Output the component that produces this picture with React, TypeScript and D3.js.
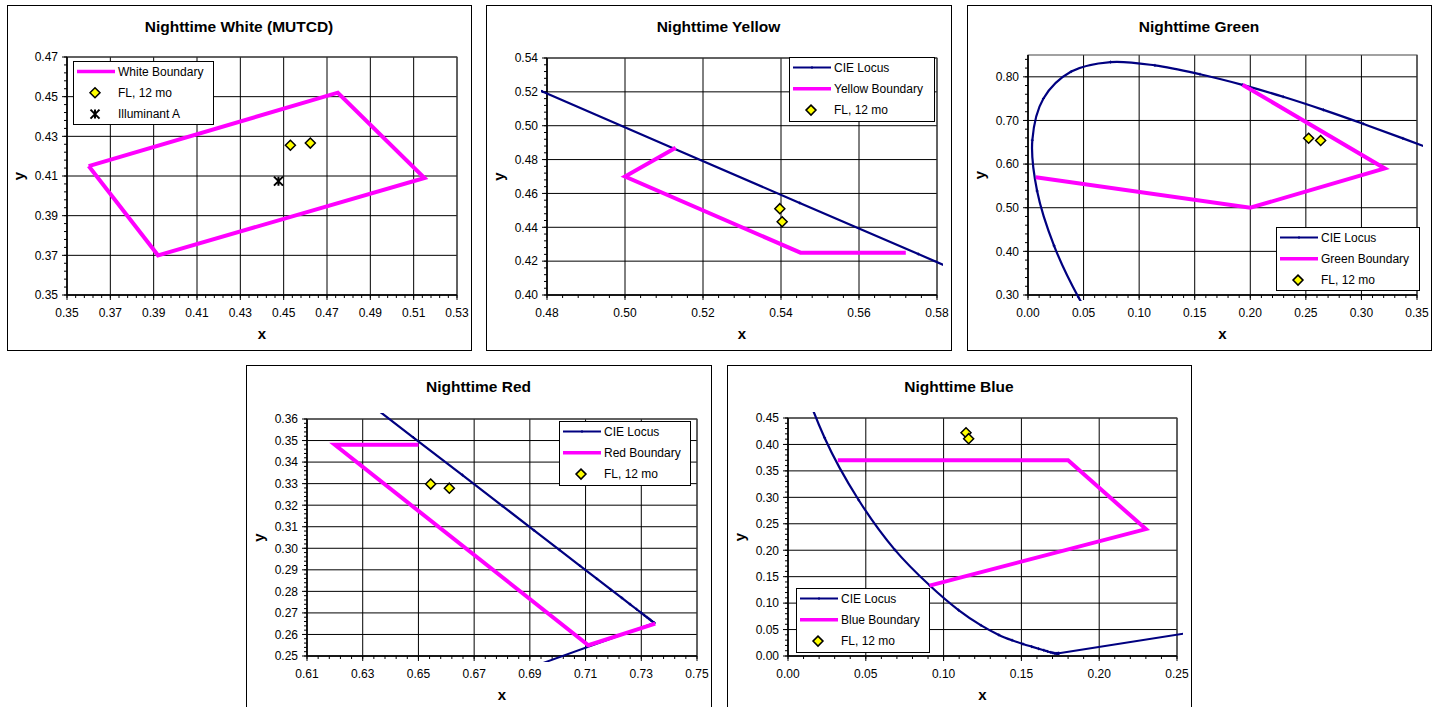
import React, { useEffect, useRef } from 'react';
import * as d3 from 'd3';

// CIE 1931 spectral locus, 380..700 nm in 5 nm steps
const locusX = [0.1741, 0.1740, 0.1738, 0.1736, 0.1733, 0.1730, 0.1726, 0.1721, 0.1714, 0.1703, 0.1689, 0.1669, 0.1644, 0.1611, 0.1566, 0.1510, 0.1440, 0.1355, 0.1241, 0.1096, 0.0913, 0.0687, 0.0454, 0.0235, 0.0082, 0.0039, 0.0139, 0.0389, 0.0743, 0.1142, 0.1547, 0.1929, 0.2296, 0.2658, 0.3016, 0.3373, 0.3731, 0.4087, 0.4441, 0.4788, 0.5125, 0.5448, 0.5752, 0.6029, 0.6270, 0.6482, 0.6658, 0.6801, 0.6915, 0.7006, 0.7079, 0.7140, 0.7190, 0.7230, 0.7260, 0.7283, 0.7300, 0.7311, 0.7320, 0.7327, 0.7334, 0.7340, 0.7344, 0.7346, 0.7347];
const locusY = [0.0050, 0.0050, 0.0049, 0.0049, 0.0048, 0.0048, 0.0048, 0.0048, 0.0051, 0.0058, 0.0069, 0.0086, 0.0109, 0.0138, 0.0177, 0.0227, 0.0297, 0.0399, 0.0578, 0.0868, 0.1327, 0.2007, 0.2950, 0.4127, 0.5384, 0.6548, 0.7502, 0.8120, 0.8338, 0.8262, 0.8059, 0.7816, 0.7543, 0.7243, 0.6923, 0.6589, 0.6245, 0.5896, 0.5547, 0.5202, 0.4866, 0.4544, 0.4242, 0.3965, 0.3725, 0.3514, 0.3340, 0.3197, 0.3083, 0.2993, 0.2920, 0.2859, 0.2809, 0.2770, 0.2740, 0.2717, 0.2700, 0.2689, 0.2680, 0.2673, 0.2666, 0.2660, 0.2656, 0.2654, 0.2653];

// white
const whiteBoundaryX = [0.360, 0.475, 0.515, 0.392, 0.360];
const whiteBoundaryY = [0.415, 0.452, 0.409, 0.370, 0.415];
const whiteFLX = [0.4531, 0.4623];
const whiteFLY = [0.4255, 0.4266];
const illumAX = [0.4476];
const illumAY = [0.4074];
const whiteXTicks = [0.35, 0.37, 0.39, 0.41, 0.43, 0.45, 0.47, 0.49, 0.51, 0.53];
const whiteYTicks = [0.35, 0.37, 0.39, 0.41, 0.43, 0.45, 0.47];

// yellow
const yellowBoundaryX = [0.513, 0.500, 0.545, 0.572];
const yellowBoundaryY = [0.487, 0.470, 0.425, 0.425];
const yellowFLX = [0.5397, 0.5403];
const yellowFLY = [0.4510, 0.4433];
const yellowXTicks = [0.48, 0.50, 0.52, 0.54, 0.56, 0.58];
const yellowYTicks = [0.40, 0.42, 0.44, 0.46, 0.48, 0.50, 0.52, 0.54];

// green
const greenBoundaryX = [0.193, 0.321, 0.200, 0.007];
const greenBoundaryY = [0.782, 0.590, 0.500, 0.570];
const greenFLX = [0.2525, 0.2633];
const greenFLY = [0.6593, 0.6540];
const greenXTicks = [0.00, 0.05, 0.10, 0.15, 0.20, 0.25, 0.30, 0.35];
const greenYTicks = [0.30, 0.40, 0.50, 0.60, 0.70, 0.80];

// red
const redBoundaryX = [0.650, 0.620, 0.711, 0.735];
const redBoundaryY = [0.348, 0.348, 0.255, 0.265];
const redFLX = [0.6544, 0.6611];
const redFLY = [0.3298, 0.3279];
const redXTicks = [0.61, 0.63, 0.65, 0.67, 0.69, 0.71, 0.73, 0.75];
const redYTicks = [0.25, 0.26, 0.27, 0.28, 0.29, 0.30, 0.31, 0.32, 0.33, 0.34, 0.35, 0.36];

// blue
const blueBoundaryX = [0.032, 0.180, 0.230, 0.091];
const blueBoundaryY = [0.370, 0.370, 0.240, 0.133];
const blueFLX = [0.1144, 0.1161];
const blueFLY = [0.4222, 0.4109];
const blueXTicks = [0.00, 0.05, 0.10, 0.15, 0.20, 0.25];
const blueYTicks = [0.00, 0.05, 0.10, 0.15, 0.20, 0.25, 0.30, 0.35, 0.40, 0.45];

const FONT = '"Liberation Sans", Arial, sans-serif';
const MAGENTA = '#FF00FF';
const NAVY = '#000080';

const zip = (xs, ys) => xs.map((v, i) => [v, ys[i]]);

const panels = [
  {
    id: 'white', title: 'Nighttime White (MUTCD)', frame: [7, 5, 464, 345], plot: [67, 57, 457, 295],
    xDomain: [0.35, 0.53], yDomain: [0.35, 0.47], xTicks: whiteXTicks, yTicks: whiteYTicks, xMinor: 0.004, yMinor: 0.004,
    locus: false, boundary: zip(whiteBoundaryX, whiteBoundaryY), fl: zip(whiteFLX, whiteFLY), illum: zip(illumAX, illumAY),
    legend: [73, 61, 140, 63], items: [['boundary', 'White Boundary'], ['fl', 'FL, 12 mo'], ['illum', 'Illuminant A']],
  },
  {
    id: 'yellow', title: 'Nighttime Yellow', frame: [486, 5, 465, 345], plot: [547, 58, 937, 295],
    xDomain: [0.48, 0.58], yDomain: [0.40, 0.54], xTicks: yellowXTicks, yTicks: yellowYTicks, xMinor: 0.004, yMinor: 0.004,
    locus: true, boundary: zip(yellowBoundaryX, yellowBoundaryY), fl: zip(yellowFLX, yellowFLY), illum: [],
    legend: [789, 57, 145, 64], items: [['locus', 'CIE Locus'], ['boundary', 'Yellow Boundary'], ['fl', 'FL, 12 mo']],
  },
  {
    id: 'green', title: 'Nighttime Green', frame: [967, 5, 464, 345], plot: [1028, 55, 1417, 295],
    xDomain: [0, 0.35], yDomain: [0.30, 0.85], xTicks: greenXTicks, yTicks: greenYTicks, xMinor: 0.01, yMinor: 0.02,
    locus: true, boundary: zip(greenBoundaryX, greenBoundaryY), fl: zip(greenFLX, greenFLY), illum: [],
    legend: [1276, 227, 143, 63], items: [['locus', 'CIE Locus'], ['boundary', 'Green Boundary'], ['fl', 'FL, 12 mo']],
  },
  {
    id: 'red', title: 'Nighttime Red', frame: [246, 365, 465, 360], plot: [307, 419, 697, 656],
    xDomain: [0.61, 0.75], yDomain: [0.25, 0.36], xTicks: redXTicks, yTicks: redYTicks, xMinor: 0.004, yMinor: 0.002,
    locus: true, boundary: zip(redBoundaryX, redBoundaryY), fl: zip(redFLX, redFLY), illum: [],
    legend: [559, 421, 131, 64], items: [['locus', 'CIE Locus'], ['boundary', 'Red Boundary'], ['fl', 'FL, 12 mo']],
  },
  {
    id: 'blue', title: 'Nighttime Blue', frame: [727, 365, 464, 360], plot: [788, 418, 1177, 656],
    xDomain: [0, 0.25], yDomain: [0, 0.45], xTicks: blueXTicks, yTicks: blueYTicks, xMinor: 0.01, yMinor: 0.01,
    locus: true, boundary: zip(blueBoundaryX, blueBoundaryY), fl: zip(blueFLX, blueFLY), illum: [],
    legend: [796, 588, 133, 64], items: [['locus', 'CIE Locus'], ['boundary', 'Blue Boundary'], ['fl', 'FL, 12 mo']],
  },
];

const diamond = (r) => `M0,${-r}L${r},0L0,${r}L${-r},0Z`;

function drawFL(g, cx, cy) {
  g.append('path').attr('d', diamond(5)).attr('transform', `translate(${cx},${cy})`)
    .attr('fill', '#FFFF00').attr('stroke', '#000').attr('stroke-width', 1.5);
}

function drawStar(g, cx, cy) {
  const s = 4.5;
  g.append('path')
    .attr('d', `M${cx - s},${cy - s}L${cx + s},${cy + s}M${cx - s},${cy + s}L${cx + s},${cy - s}M${cx},${cy - s}L${cx},${cy + s}`)
    .attr('stroke', '#000').attr('stroke-width', 2).attr('fill', 'none');
}

function drawPlus(g, cx, cy) {
  g.append('path').attr('d', `M${cx - 1.5},${cy}L${cx + 1.5},${cy}M${cx},${cy - 1.5}L${cx},${cy + 1.5}`)
    .attr('stroke', NAVY).attr('stroke-width', 1);
}

function drawPanel(svg, p) {
  const [fx, fy, fw, fh] = p.frame;
  const [l, t, r, b] = p.plot;
  const g = svg.append('g');

  g.append('rect').attr('x', fx + 0.5).attr('y', fy + 0.5).attr('width', fw).attr('height', fh)
    .attr('fill', '#fff').attr('stroke', '#000').attr('stroke-width', 1);

  const x = d3.scaleLinear().domain(p.xDomain).range([l, r]);
  const y = d3.scaleLinear().domain(p.yDomain).range([b, t]);

  // gridlines
  g.selectAll('.vgrid').data(p.xTicks).enter().append('line')
    .attr('x1', d => x(d)).attr('x2', d => x(d)).attr('y1', t).attr('y2', b)
    .attr('stroke', '#000').attr('stroke-width', 1);
  g.selectAll('.hgrid').data(p.yTicks).enter().append('line')
    .attr('x1', l).attr('x2', r).attr('y1', d => y(d)).attr('y2', d => y(d))
    .attr('stroke', '#000').attr('stroke-width', 1);
  g.append('rect').attr('x', l).attr('y', t).attr('width', r - l).attr('height', b - t)
    .attr('fill', 'none').attr('stroke', '#444').attr('stroke-width', 1);

  // minor ticks
  const xMinor = d3.range(p.xDomain[0], p.xDomain[1] + 1e-9, p.xMinor);
  const yMinor = d3.range(p.yDomain[0], p.yDomain[1] + 1e-9, p.yMinor);
  g.selectAll('.xminor').data(xMinor).enter().append('line')
    .attr('x1', d => x(d)).attr('x2', d => x(d)).attr('y1', b).attr('y2', b + 3)
    .attr('stroke', '#000');
  g.selectAll('.yminor').data(yMinor).enter().append('line')
    .attr('x1', l - 3).attr('x2', l).attr('y1', d => y(d)).attr('y2', d => y(d))
    .attr('stroke', '#000');
  g.selectAll('.xmajor').data(p.xTicks).enter().append('line')
    .attr('x1', d => x(d)).attr('x2', d => x(d)).attr('y1', b).attr('y2', b + 5)
    .attr('stroke', '#000');
  g.selectAll('.ymajor').data(p.yTicks).enter().append('line')
    .attr('x1', l - 5).attr('x2', l).attr('y1', d => y(d)).attr('y2', d => y(d))
    .attr('stroke', '#000');

  // axis lines
  g.append('line').attr('x1', l).attr('x2', r).attr('y1', b).attr('y2', b).attr('stroke', '#000').attr('stroke-width', 1.5);
  g.append('line').attr('x1', l).attr('x2', l).attr('y1', t).attr('y2', b).attr('stroke', '#000').attr('stroke-width', 1.5);

  // tick labels
  const fmt = d3.format('.2f');
  g.selectAll('.xlab').data(p.xTicks).enter().append('text')
    .attr('x', d => x(d)).attr('y', b + 22).attr('text-anchor', 'middle')
    .attr('font-family', FONT).attr('font-size', 12).attr('fill', '#000').text(d => fmt(d));
  g.selectAll('.ylab').data(p.yTicks).enter().append('text')
    .attr('x', l - 9).attr('y', d => y(d)).attr('dy', '0.36em').attr('text-anchor', 'end')
    .attr('font-family', FONT).attr('font-size', 12).attr('fill', '#000').text(d => fmt(d));

  // titles
  g.append('text').attr('x', fx + fw / 2).attr('y', fy + 27).attr('text-anchor', 'middle')
    .attr('font-family', FONT).attr('font-size', 15.5).attr('font-weight', 'bold').text(p.title);
  g.append('text').attr('x', (l + r) / 2).attr('y', b + 44).attr('text-anchor', 'middle')
    .attr('font-family', FONT).attr('font-size', 15).attr('font-weight', 'bold').text('x');
  g.append('text').attr('transform', `translate(${l - 43},${(t + b) / 2}) rotate(-90)`).attr('text-anchor', 'middle')
    .attr('font-family', FONT).attr('font-size', 15).attr('font-weight', 'bold').text('y');

  // data, clipped a little outside the plot area like Excel does
  const clipId = `clip-${p.id}`;
  svg.append('defs').append('clipPath').attr('id', clipId)
    .append('rect').attr('x', l - 6).attr('y', t - 6).attr('width', r - l + 12).attr('height', b - t + 12);
  const data = g.append('g').attr('clip-path', `url(#${clipId})`);

  if (p.locus) {
    const pts = zip(locusX, locusY);
    const curve = d3.line().x(d => x(d[0])).y(d => y(d[1])).curve(d3.curveCatmullRom.alpha(0.5));
    data.append('path').attr('d', curve(pts)).attr('fill', 'none').attr('stroke', NAVY).attr('stroke-width', 2.2);
    // purple line back to 380 nm
    const closing = [pts[pts.length - 1], pts[0]];
    data.append('path').attr('d', d3.line().x(d => x(d[0])).y(d => y(d[1]))(closing))
      .attr('fill', 'none').attr('stroke', NAVY).attr('stroke-width', 2);
    pts.forEach(d => drawPlus(data, x(d[0]), y(d[1])));
  }

  const line = d3.line().x(d => x(d[0])).y(d => y(d[1]));
  data.append('path').attr('d', line(p.boundary)).attr('fill', 'none')
    .attr('stroke', MAGENTA).attr('stroke-width', 4).attr('stroke-linejoin', 'miter');

  p.fl.forEach(d => drawFL(data, x(d[0]), y(d[1])));
  p.illum.forEach(d => drawStar(data, x(d[0]), y(d[1])));

  // legend
  const [lx, ly, lw, lh] = p.legend;
  const lg = g.append('g');
  lg.append('rect').attr('x', lx + 0.5).attr('y', ly + 0.5).attr('width', lw).attr('height', lh)
    .attr('fill', '#fff').attr('stroke', '#000').attr('stroke-width', 1);
  p.items.forEach((it, i) => {
    const ry = ly + 10.5 + i * 21.3;
    const kind = it[0];
    if (kind === 'locus') {
      lg.append('line').attr('x1', lx + 4).attr('x2', lx + 42).attr('y1', ry).attr('y2', ry)
        .attr('stroke', NAVY).attr('stroke-width', 2);
      drawPlus(lg, lx + 23, ry);
    } else if (kind === 'boundary') {
      lg.append('line').attr('x1', lx + 4).attr('x2', lx + 42).attr('y1', ry).attr('y2', ry)
        .attr('stroke', MAGENTA).attr('stroke-width', 3.5);
    } else if (kind === 'fl') {
      drawFL(lg, lx + 22, ry);
    } else {
      drawStar(lg, lx + 22, ry);
    }
    lg.append('text').attr('x', lx + 45).attr('y', ry).attr('dy', '0.36em')
      .attr('font-family', FONT).attr('font-size', 12).attr('fill', '#000').text(it[1]);
  });
}

export default function App() {
  const ref = useRef(null);

  useEffect(() => {
    const svg = d3.select(ref.current);
    svg.selectAll('*').remove();
    panels.forEach(p => drawPanel(svg, p));
  }, []);

  return (
    <svg ref={ref} width={1441} height={707}
      style={{ position: 'absolute', left: 0, top: 0, background: '#fff' }} />
  );
}
